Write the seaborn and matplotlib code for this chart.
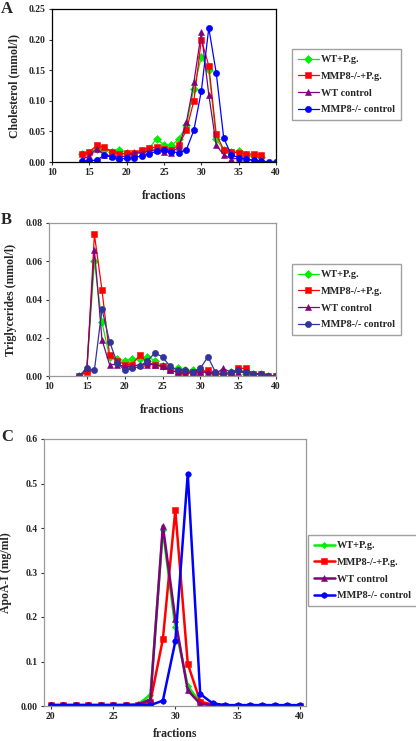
import numpy as np
import pandas as pd
import seaborn as sns
import matplotlib.pyplot as plt

nan = np.nan

labels = ["WT+P.g.", "MMP8-/-+P.g.", "WT control", "MMP8-/- control"]

# panel A - cholesterol, fractions 14..40
frac_a = list(range(14, 41))
chol_wt_pg = [0.013, 0.015, 0.022, 0.020, 0.017, 0.019, 0.015, 0.015, 0.018, 0.022, 0.038, 0.028, 0.027, 0.038,
              0.060, 0.120, 0.172, 0.150, 0.037, 0.020, 0.017, 0.018, 0.012, 0.010, 0.008, nan, nan]
chol_mmp8_pg = [0.013, 0.017, 0.027, 0.024, 0.017, 0.013, 0.014, 0.015, 0.020, 0.023, 0.024, 0.022, 0.020, 0.028,
                0.052, 0.100, 0.200, 0.157, 0.045, 0.020, 0.016, 0.015, 0.013, 0.013, 0.012, nan, nan]
chol_wt_ctrl = [0.004, 0.010, 0.022, 0.012, 0.010, 0.008, 0.010, 0.015, 0.015, 0.018, 0.020, 0.017, 0.015, 0.025,
                0.065, 0.130, 0.212, 0.110, 0.027, 0.012, 0.005, 0.006, 0.005, 0.002, 0.001, nan, nan]
chol_mmp8_ctrl = [0.002, 0.002, 0.003, 0.011, 0.008, 0.005, 0.006, 0.007, 0.010, 0.013, 0.018, 0.020, 0.017, 0.015,
                  0.020, 0.052, 0.116, 0.219, 0.145, 0.039, 0.012, 0.007, 0.005, 0.003, 0.002, 0.000, 0.000]

# panel B - triglycerides, fractions 14..40
frac_b = list(range(14, 41))
tg_wt_pg = [0.000, 0.003, 0.060, 0.028, 0.010, 0.009, 0.008, 0.009, 0.009, 0.010, 0.008, 0.005, 0.004, 0.004,
            0.003, 0.003, 0.003, 0.002, 0.001, 0.001, 0.002, 0.003, 0.001, 0.001, 0.001, 0.000, 0.000]
tg_mmp8_pg = [0.000, 0.002, 0.074, 0.045, 0.011, 0.008, 0.006, 0.006, 0.011, 0.007, 0.006, 0.005, 0.003, 0.002,
              0.002, 0.002, 0.002, 0.003, 0.001, 0.001, 0.001, 0.004, 0.004, 0.001, 0.001, 0.000, 0.000]
tg_wt_ctrl = [0.000, 0.004, 0.066, 0.019, 0.006, 0.006, 0.005, 0.005, 0.006, 0.006, 0.006, 0.005, 0.003, 0.002,
              0.001, 0.002, 0.002, 0.002, 0.001, 0.004, 0.002, 0.002, 0.002, 0.001, 0.001, 0.000, 0.000]
tg_mmp8_ctrl = [0.000, 0.004, 0.003, 0.035, 0.018, 0.007, 0.003, 0.004, 0.005, 0.008, 0.012, 0.010, 0.005, 0.003,
                0.003, 0.002, 0.004, 0.010, 0.002, 0.001, 0.002, 0.003, 0.002, 0.001, 0.001, 0.000, 0.000]

# panel C - ApoA-I, fractions 20..40
frac_c = list(range(20, 41))
apo_wt_pg = [0.002, 0.002, 0.002, 0.002, 0.002, 0.002, 0.002, 0.004, 0.025, 0.395, 0.178, 0.045, 0.008, 0.002,
             0.001, 0.001, 0.001, 0.001, 0.001, 0.001, 0.001]
apo_mmp8_pg = [0.002, 0.002, 0.002, 0.002, 0.002, 0.002, 0.002, 0.002, 0.010, 0.150, 0.440, 0.095, 0.010, 0.003,
               0.001, 0.001, 0.001, 0.001, 0.001, 0.001, 0.001]
apo_wt_ctrl = [0.002, 0.002, 0.002, 0.002, 0.002, 0.002, 0.002, 0.003, 0.015, 0.405, 0.195, 0.035, 0.005, 0.001,
               0.001, 0.001, 0.001, 0.001, 0.001, 0.001, 0.001]
apo_mmp8_ctrl = [0.002, 0.002, 0.002, 0.002, 0.002, 0.002, 0.002, 0.002, 0.002, 0.012, 0.145, 0.522, 0.027, 0.006,
                 0.002, 0.002, 0.002, 0.002, 0.002, 0.002, 0.002]

markers = ["D", "s", "^", "o"]

sns.set_style("white")
plt.rcParams['font.family'] = ['Liberation Serif', 'DejaVu Serif']
plt.rcParams['font.weight'] = 'bold'
plt.rcParams['axes.labelweight'] = 'bold'

fig = plt.figure(figsize=(4.16, 7.41), dpi=100)
W, H = 416.0, 741.0


def box(l, t, r, b):
    return [l / W, 1 - b / H, (r - l) / W, (b - t) / H]


def panel(rect, x, series, colors, lw, ms, ylim, yticks, yticklabels, xlim, xticks,
          ylabel, letter, letter_xy, spine_col, leg_xy, xpad):
    ax = fig.add_axes(box(*rect))
    for vals, lab, col, mk in zip(series, labels, colors, markers):
        df = pd.DataFrame({"fraction": x, "value": vals})
        sns.lineplot(data=df, x="fraction", y="value", ax=ax, color=col, marker=mk, label=lab,
                     linewidth=lw, markersize=ms if mk != "D" else ms * 0.8, markeredgewidth=0.4,
                     markeredgecolor=col)
    ax.set_xlim(*xlim)
    ax.set_ylim(*ylim)
    ax.set_xticks(xticks)
    ax.set_xticklabels([str(t) for t in xticks])
    ax.set_yticks(yticks)
    ax.set_yticklabels(yticklabels)
    ax.tick_params(labelsize=7, length=2.5, width=0.8, direction="out", pad=2,
                   bottom=True, left=True, color="#333333")
    for lab in ax.get_xticklabels() + ax.get_yticklabels():
        lab.set_fontweight("bold")
    ax.set_xlabel("fractions", fontsize=8.5, labelpad=xpad)
    ax.set_ylabel(ylabel, fontsize=8.5, labelpad=6)
    for s in ax.spines.values():
        s.set_color(spine_col)
        s.set_linewidth(0.9)
    h, l = ax.get_legend_handles_labels()
    ax.get_legend().remove()
    fig.legend(h, l, loc="upper left", bbox_to_anchor=(leg_xy[0] / W, 1 - leg_xy[1] / H),
               fontsize=7.4, frameon=True, fancybox=False, edgecolor="#a0a0a0", framealpha=1,
               handlelength=2.0, handletextpad=0.2, labelspacing=0.72, borderpad=0.6,
               borderaxespad=0)
    fig.text(letter_xy[0] / W, 1 - letter_xy[1] / H, letter, fontsize=12, fontweight="bold",
             ha="left", va="top")
    return ax


panel((52, 9, 276, 162), frac_a, [chol_wt_pg, chol_mmp8_pg, chol_wt_ctrl, chol_mmp8_ctrl],
      ["#00ee00", "#ff0000", "#800080", "#0000ff"], 0.9, 4.5,
      (0, 0.25), [0, 0.05, 0.10, 0.15, 0.20, 0.25], ["0.00", "0.05", "0.10", "0.15", "0.20", "0.25"],
      (10, 40), [10, 15, 20, 25, 30, 35, 40], "Cholesterol (mmol/l)", "A", (1, 1), "black", (292, 49), 9)

panel((49, 223, 276, 376), frac_b, [tg_wt_pg, tg_mmp8_pg, tg_wt_ctrl, tg_mmp8_ctrl],
      ["#00ee00", "#ff0000", "#800080", "#333399"], 0.9, 4.5,
      (0, 0.08), [0, 0.02, 0.04, 0.06, 0.08], ["0.00", "0.02", "0.04", "0.06", "0.08"],
      (10, 40), [10, 15, 20, 25, 30, 35, 40], "Triglycerides (mmol/l)", "B", (1, 212), "#999999", (292, 264), 9)

panel((44, 439, 306, 706), frac_c, [apo_wt_pg, apo_mmp8_pg, apo_wt_ctrl, apo_mmp8_ctrl],
      ["#00ee00", "#ff0000", "#800080", "#0000ff"], 1.8, 4.0,
      (0, 0.6), [0, 0.1, 0.2, 0.3, 0.4, 0.5, 0.6], ["0.00", "0.1", "0.2", "0.3", "0.4", "0.5", "0.6"],
      (19.45, 40.5), [20, 25, 30, 35, 40], "ApoA-I (mg/ml)", "C", (1, 429), "#999999", (308, 535), 5)

fig.savefig("out.png", dpi=100)
